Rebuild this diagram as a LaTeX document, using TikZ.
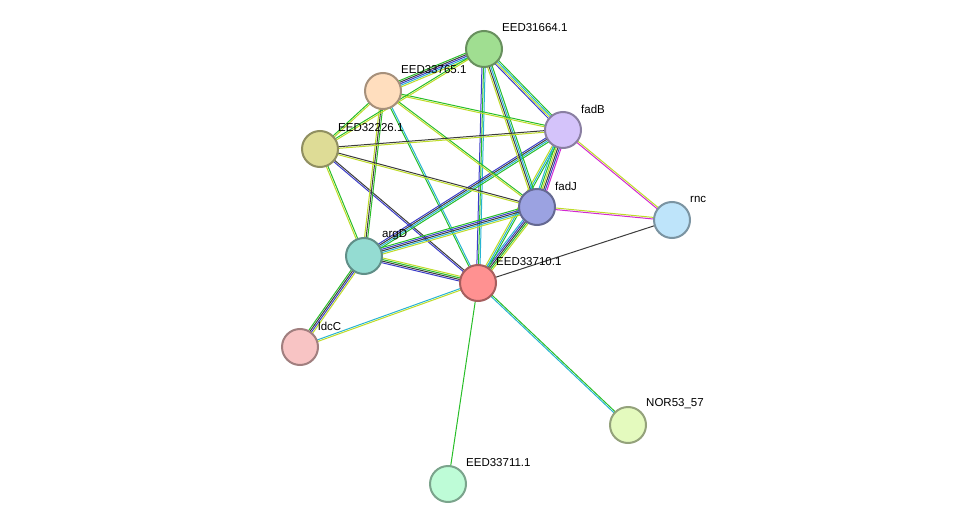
\documentclass[tikz,border=0pt]{standalone}
\usepackage{fontspec}
\setmainfont{Liberation Sans}
\definecolor{ln}{RGB}{40,190,40}
\definecolor{lc}{RGB}{40,180,210}
\definecolor{ly}{RGB}{190,220,40}
\definecolor{lk}{RGB}{60,60,60}
\definecolor{lb}{RGB}{60,60,200}
\definecolor{lm}{RGB}{210,40,210}
\usetikzlibrary{positioning,calc,backgrounds}

\begin{document}
\begin{tikzpicture}[
            x=1pt,y=-1pt,
            prot/.style={circle,draw=#1!65!black,fill=#1,line width=2pt,minimum size=36pt,inner sep=0pt},
            lbl/.style={anchor=west,inner sep=0pt,font=\fontsize{11.5}{13}\selectfont},
            link/.style={line width=1pt}
        ]
            \path[use as bounding box] (0,0) rectangle (976,529);
            \definecolor{cA}{RGB}{160,222,145}
            \definecolor{cB}{RGB}{255,222,190}
            \definecolor{cC}{RGB}{212,195,250}
            \definecolor{cD}{RGB}{222,220,150}
            \definecolor{cE}{RGB}{155,162,225}
            \definecolor{cF}{RGB}{190,228,250}
            \definecolor{cG}{RGB}{148,220,210}
            \definecolor{cH}{RGB}{255,145,145}
            \definecolor{cI}{RGB}{248,196,196}
            \definecolor{cJ}{RGB}{228,250,190}
            \definecolor{cK}{RGB}{190,252,215}

            \node[prot=cA] (e31664) at (484,49) {};
            \node[prot=cB] (e33765) at (383,91) {};
            \node[prot=cC] (fadB) at (563,130) {};
            \node[prot=cD] (e32226) at (320,149) {};
            \node[prot=cE] (fadJ) at (537,207) {};
            \node[prot=cF] (rnc) at (672,220) {};
            \node[prot=cG] (argD) at (364,256) {};
            \node[prot=cH] (e33710) at (478,283) {};
            \node[prot=cI] (ldcC) at (300,347) {};
            \node[prot=cJ] (nor) at (628,425) {};
            \node[prot=cK] (e33711) at (448,484) {};

            % labels
            \foreach \n/\t in {e31664/EED31664.1,e33765/EED33765.1,fadB/fadB,e32226/EED32226.1,
                fadJ/fadJ,rnc/rnc,argD/argD,e33710/EED33710.1,ldcC/ldcC,nor/NOR53\_57,e33711/EED33711.1}
                \node[lbl] at ($(\n)+(18,-21)$) {\t};

            % links
            \begin{pgfonlayer}{background}
            \foreach \a/\b/\cols in {
                e33710/nor/{lc,ln},
                e33710/e33711/{ln},
                e33710/ldcC/{lc,ly},
                e33710/rnc/{lk},
                e33710/argD/{ly,ln,lk,lb},
                e33710/fadJ/{ly,ln,lk,lb,lc},
                e33710/fadB/{ln,lc,ly},
                e33710/e31664/{lc,ln,lb},
                e33710/e33765/{lc,ln},
                e33710/e32226/{lk,lb},
                argD/ldcC/{ln,lk,lb,ly},
                argD/e32226/{ln,ly},
                argD/e33765/{ln,lk,ly},
                argD/fadJ/{ly,lc,lk,lb,ln},
                argD/fadB/{ln,lc,lk,lb},
                fadJ/fadB/{lm,lb,lk,ly,ln,lc},
                fadJ/rnc/{lm,ly},
                fadB/rnc/{lm,ly},
                fadJ/e31664/{ln,lc,lk,ly},
                fadB/e31664/{ln,lc,ly,lb},
                fadJ/e33765/{ln,ly},
                fadB/e33765/{ln,ly},
                fadJ/e32226/{lk,ly},
                fadB/e32226/{lk,ly},
                e31664/e33765/{ln,lk,lb,lc,ly},
                e31664/e32226/{ln,ly},
                e33765/e32226/{ln,ly}}
            {
                \foreach \c [count=\n] in \cols {\xdef\nc{\n}}
                \foreach \c [count=\i] in \cols {
                    \pgfmathsetmacro\o{(\i-1)*1.6-(\nc-1)*0.8}
                    \draw[link,\c] ($(\a)!\o pt!90:(\b)$) -- ($(\b)!\o pt!-90:(\a)$);
                }
            }
            \end{pgfonlayer}
        \end{tikzpicture}
\end{document}
